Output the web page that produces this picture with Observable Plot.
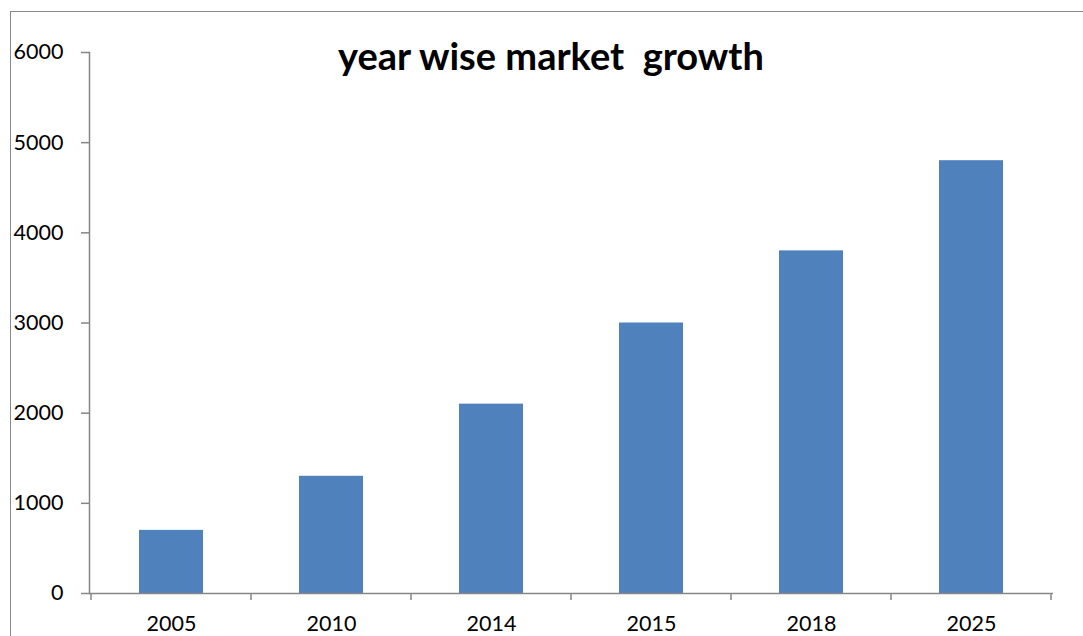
<!DOCTYPE html>
<html>
<head>
<meta charset="utf-8">
<script src="https://cdn.jsdelivr.net/npm/d3@7"></script>
<script src="https://cdn.jsdelivr.net/npm/@observablehq/plot@0.6"></script>
<style>
  html, body { margin: 0; padding: 0; background: #fff; overflow: hidden; }
  #wrap { position: relative; width: 1083px; height: 636px; }
  #border { position: absolute; left: 10px; top: 11px; width: 1100px; height: 700px; border: 1.5px solid #8a8a8a; box-sizing: border-box; }
  #title { position: absolute; left: 0; width: 1102px; top: 32px; line-height: 46px; text-align: center; font-family: Lato, "Open Sans", sans-serif; font-weight: 700; font-size: 38px; color: #000; white-space: pre; }
  #chart { position: absolute; left: 0; top: 0; }
</style>
</head>
<body>
<div id="wrap">
  <div id="border"></div>
  <div id="chart"></div>
  <div id="title"></div>
</div>
<script>
const titleText = "year wise market  growth";
const years = ["2005", "2010", "2014", "2015", "2018", "2025"];
const values = [700, 1300, 2100, 3000, 3800, 4800];
const yTicks = [0, 1000, 2000, 3000, 4000, 5000, 6000];

const data = years.map((y, i) => ({year: y, value: values[i]}));
const axisColor = "#868686";

document.getElementById("title").textContent = titleText;

const plot = Plot.plot({
  width: 1083,
  height: 636,
  marginLeft: 89,
  marginRight: 30,
  marginTop: 52,
  marginBottom: 43,
  style: {fontFamily: "Lato, 'Open Sans', sans-serif", fontSize: "21.5px", color: "#000", background: "transparent", overflow: "visible"},
  x: {domain: years, paddingInner: 0.6, paddingOuter: 0.3},
  y: {domain: [0, 6000]},
  marks: [
    Plot.barY(data, {x: "year", y: "value", fill: "#4F81BD"}),
    Plot.frame({anchor: "left", stroke: axisColor, strokeWidth: 1.5, strokeOpacity: 1}),
    Plot.ruleY([0], {stroke: axisColor, strokeWidth: 1.5}),
    Plot.axisY({ticks: yTicks, tickSize: 8, tickPadding: 18, stroke: axisColor, strokeWidth: 1.5, label: null, tickFormat: d => String(d), fill: "#000"}),
    Plot.axisX({tickSize: 0, tickPadding: 22, label: null, fill: "#000"})
  ]
});
document.getElementById("chart").appendChild(plot);

// boundary ticks on the category axis, placed from the plot's own x scale
const sx = plot.scale("x");
const gap = (sx.step - sx.bandwidth) / 2;
const bounds = years.map(c => sx.apply(c) - gap);
bounds.push(sx.apply(years[years.length - 1]) + sx.bandwidth + gap);
const y0 = plot.scale("y").apply(0);
d3.select(plot).append("g")
  .selectAll("line").data(bounds).join("line")
  .attr("x1", d => d).attr("x2", d => d)
  .attr("y1", y0).attr("y2", y0 + 7)
  .attr("stroke", axisColor).attr("stroke-width", 1.5);
</script>
</body>
</html>
